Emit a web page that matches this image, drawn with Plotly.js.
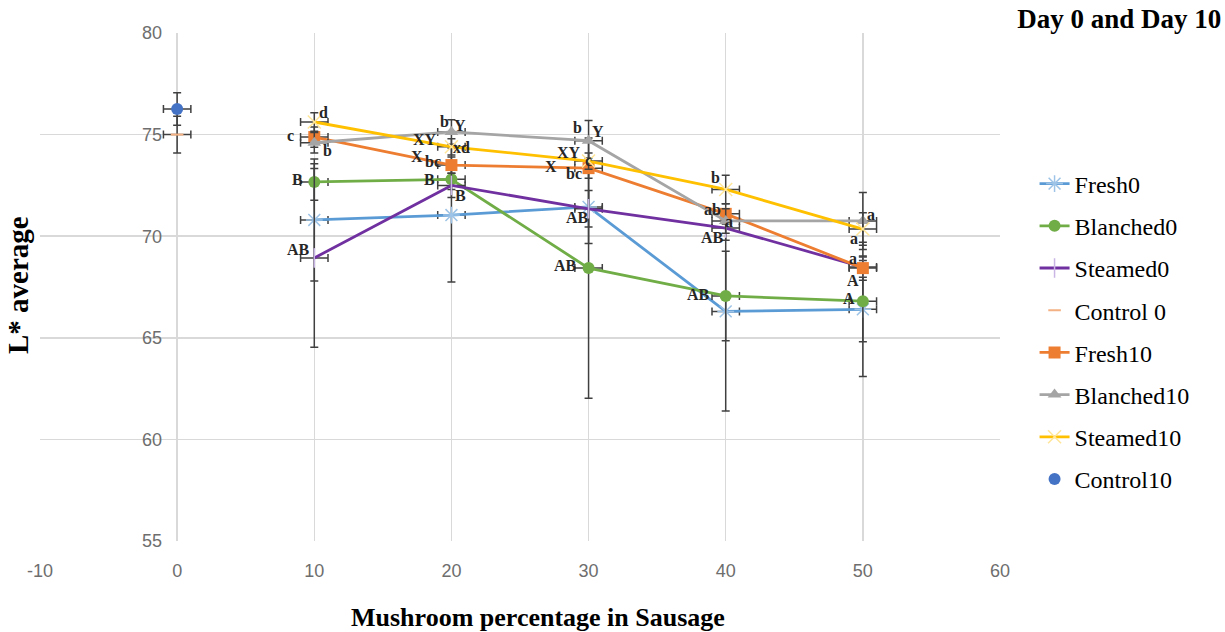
<!DOCTYPE html>
<html>
<head>
<meta charset="utf-8">
<script src="https://cdn.plot.ly/plotly-3.0.1.min.js"></script>
<style>html,body{margin:0;padding:0;background:#fff;}#chart{width:1225px;height:632px;}</style>
</head>
<body>
<div id="chart"></div>
<script>
// ---- data ----
const pct = [10, 20, 30, 40, 50];
const fresh0 = [70.8, 71.04, 71.44, 66.3, 66.4];
const fresh0Err = [3.0, 3.3, 1.8, 4.9, 3.3];
const blanched0 = [72.67, 72.8, 68.43, 67.06, 66.8];
const blanched0Err = [0.9, 0.5, 6.4, 2.2, 2.0];
const steamed0 = [68.93, 72.5, 71.35, 70.4, 68.48];
const steamed0Err = [4.4, 0.6, 0.9, 0.6, 0.5];
const control0X = [0];
const control0 = [75.0];
const control0Err = [0.9];
const fresh10 = [74.88, 73.5, 73.35, 71.1, 68.43];
const fresh10Err = [0.5, 0.4, 0.5, 0.5, 0.6];
const blanched10 = [74.6, 75.13, 74.7, 70.75, 70.75];
const blanched10Err = [0.5, 0.6, 1.0, 0.6, 1.4];
const steamed10 = [75.62, 74.4, 73.7, 72.3, 70.35];
const steamed10Err = [0.45, 0.4, 0.4, 0.7, 0.8];
const control10X = [0];
const control10 = [76.26];
const control10Err = [0.8];
const xErr = 1;

const xTickVals = [-10, 0, 10, 20, 30, 40, 50, 60];
const xTickText = ['-10', '0', '10', '20', '30', '40', '50', '60'];
const yTickVals = [55, 60, 65, 70, 75, 80];
const yTickText = ['55', '60', '65', '70', '75', '80'];

// significance letters: series, point index, text
const letters = [
  ['Steamed10',0,'d'],['Fresh10',0,'c'],['Blanched10',0,'b'],['Blanched0',0,'B'],['Steamed0',0,'AB'],
  ['Blanched10',1,'b'],['Blanched10',1,'Y'],['Steamed10',1,'XY'],['Steamed10',1,'xd'],['Fresh10',1,'X'],['Fresh10',1,'bc'],['Blanched0',1,'B'],['Steamed0',1,'B'],
  ['Blanched10',2,'b'],['Blanched10',2,'Y'],['Steamed10',2,'XY'],['Fresh10',2,'c'],['Fresh10',2,'X'],['Fresh10',2,'bc'],['Fresh0',2,'AB'],['Blanched0',2,'AB'],
  ['Steamed10',3,'b'],['Fresh10',3,'ab'],['Blanched10',3,'a'],['Steamed0',3,'AB'],['Blanched0',3,'AB'],
  ['Blanched10',4,'a'],['Steamed10',4,'a'],['Fresh10',4,'a'],['Steamed0',4,'A'],['Blanched0',4,'A']
];
// pixel offsets of the letters (style)
const letterShift = [
  [9,-10],[-24,-2],[13,8],[-17,-2],[-16,-8],
  [-7,-10],[9,-6],[-26,-7],[10,1],[-34,-9],[-18,-4],[-22,0],[9,10],
  [-11,-13],[9,-9],[-20,-9],[0,-8],[-38,-2],[-15,5],[-11,11],[-23,-3],
  [-10,-12],[-13,-4],[3,1],[-13,9],[-27,-1],
  [8,-6],[-9,9],[-10,-10],[-10,13],[-14,-3]
];

const series = {
  Fresh0: [pct, fresh0, fresh0Err], Blanched0: [pct, blanched0, blanched0Err], Steamed0: [pct, steamed0, steamed0Err],
  Fresh10: [pct, fresh10, fresh10Err], Blanched10: [pct, blanched10, blanched10Err], Steamed10: [pct, steamed10, steamed10Err]
};

const serif = 'Liberation Serif, Times New Roman, DejaVu Serif, serif';
const ebColor = '#404040';
function mk(name, legendName, x, y, err, lineColor, marker, mode) {
  return {
    type: 'scatter', mode: mode, name: legendName, x: x, y: y,
    legendgroup: name,
    line: {color: lineColor, width: 2.8},
    marker: marker,
    error_y: {type: 'data', array: err, visible: true, color: ebColor, thickness: 1.5, width: 4},
    error_x: {type: 'constant', value: xErr, visible: true, color: ebColor, thickness: 1.5, width: 4},
    cliponaxis: false
  };
}

const traces = [
  mk('Fresh0', 'Fresh0', pct, fresh0, fresh0Err, '#5b9bd5', {symbol: 'asterisk-open', size: 14, color: '#9dc3e6', line: {width: 1.5, color: '#9dc3e6'}}, 'lines+markers'),
  mk('Blanched0', 'Blanched0', pct, blanched0, blanched0Err, '#70ad47', {symbol: 'circle', size: 12, color: '#70ad47'}, 'lines+markers'),
  mk('Steamed0', 'Steamed0', pct, steamed0, steamed0Err, '#7030a0', {symbol: 'line-ns-open', size: 14, color: '#c9b6e4', line: {width: 1.5, color: '#c9b6e4'}}, 'lines+markers'),
  mk('Control0', 'Control 0', control0X, control0, control0Err, '#f4b183', {symbol: 'line-ew-open', size: 9, color: '#f4b183', line: {width: 2, color: '#f4b183'}}, 'markers'),
  mk('Fresh10', 'Fresh10', pct, fresh10, fresh10Err, '#ed7d31', {symbol: 'square', size: 12, color: '#ed7d31'}, 'lines+markers'),
  mk('Blanched10', 'Blanched10', pct, blanched10, blanched10Err, '#a5a5a5', {symbol: 'triangle-up', size: 12, color: '#a5a5a5'}, 'lines+markers'),
  mk('Steamed10', 'Steamed10', pct, steamed10, steamed10Err, '#ffc000', {symbol: 'x-thin-open', size: 13, color: '#ffe699', line: {width: 1.5, color: '#ffe699'}}, 'lines+markers'),
  mk('Control10', 'Control10', control10X, control10, control10Err, '#4472c4', {symbol: 'circle', size: 12, color: '#4472c4'}, 'markers')
];

const letterFont = {family: serif, size: 16, color: '#262626'};
const annotations = letters.map((l, k) => {
  const s = series[l[0]];
  return {
    x: s[0][l[1]], y: s[1][l[1]], xref: 'x', yref: 'y', text: '<b>' + l[2] + '</b>',
    showarrow: false, xshift: letterShift[k][0], yshift: -letterShift[k][1],
    font: letterFont, xanchor: 'center', yanchor: 'middle'
  };
});

annotations.push({
  xref: 'paper', yref: 'paper', x: -0.0229, y: 0.504, text: '<b>L* average</b>', textangle: -90,
  showarrow: false, font: {family: serif, size: 29, color: '#000'}, xanchor: 'center', yanchor: 'middle'
});
annotations.push({
  xref: 'paper', yref: 'paper', x: 0.519, y: -0.15, text: '<b>Mushroom percentage in Sausage</b>',
  showarrow: false, font: {family: serif, size: 26, color: '#000'}, xanchor: 'center', yanchor: 'middle'
});

const tickFont = {family: 'Liberation Sans', size: 18, color: '#6e6e6e'};
const layout = {
  width: 1225, height: 632,
  font: {family: serif, size: 20, color: '#000'},
  paper_bgcolor: '#fff', plot_bgcolor: '#fff',
  margin: {l: 40, r: 225, t: 33, b: 91},
  title: {text: '<b>Day 0 and Day 10</b>', x: 0.997, xanchor: 'right', xref: 'container', y: 0.97, yanchor: 'middle',
          font: {family: serif, size: 27, color: '#000'}},
  xaxis: {
    range: [-10, 60], tickmode: 'array', tickvals: xTickVals, ticktext: xTickText,
    showgrid: true, gridcolor: '#d9d9d9', gridwidth: 1.5,
    zeroline: false, showline: false, ticks: '', ticklabelstandoff: 17, tickfont: tickFont, fixedrange: true
  },
  yaxis: {
    range: [55, 80], tickmode: 'array', tickvals: yTickVals, ticktext: yTickText,
    showgrid: true, gridcolor: '#d9d9d9', gridwidth: 1.5,
    zeroline: false, showline: false,
    anchor: 'free', position: 10 / 70, ticks: '', ticklabelstandoff: 15, tickfont: tickFont, fixedrange: true
  },
  showlegend: true,
  legend: {
    x: 1.036, xanchor: 'left', y: 0.747, yanchor: 'top',
    font: {family: serif, size: 24, color: '#000'},
    tracegroupgap: 8, bgcolor: 'rgba(0,0,0,0)'
  },
  annotations: annotations
};

Plotly.newPlot('chart', traces, layout, {displayModeBar: false, staticPlot: true});
</script>
</body>
</html>
